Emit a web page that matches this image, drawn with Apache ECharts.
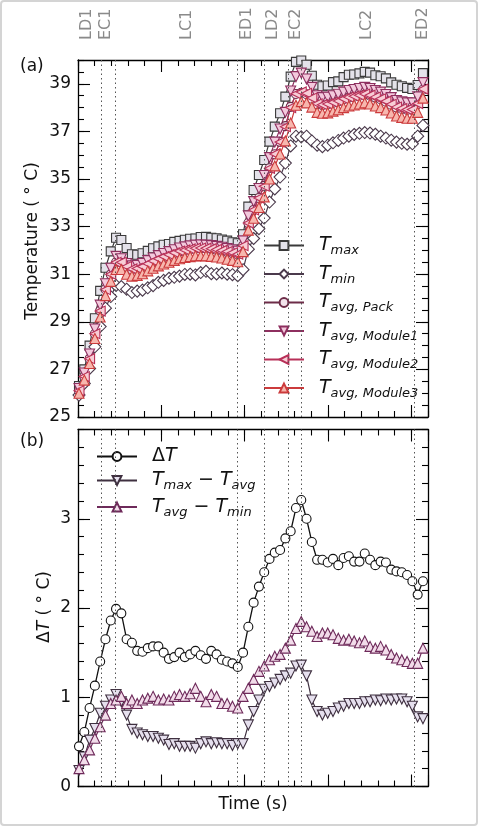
<!DOCTYPE html>
<html><head><meta charset="utf-8">
<script src="https://cdn.jsdelivr.net/npm/echarts@6/dist/echarts.min.js"></script>
<style>html,body{margin:0;padding:0;background:#fff}#c{width:478px;height:826px}</style>
</head><body><div id="c"></div><script>
// ---------------- data ----------------
const sampleStart = 12, sampleStep = 63.5;   // sampling grid (s)
const Tmax = [26.3,27.0,28.0,29.15,30.3,31.27,31.96,32.53,
  32.44,32.1,31.84,31.82,31.88,31.98,32.09,32.17,32.24,32.27,32.36,32.4,32.45,32.49,32.5,32.56,32.57,32.53,32.51,32.46,32.41,32.34,32.3,
  32.68,33.84,34.54,35.17,35.8,36.57,37.2,37.76,38.46,
  39.3,39.92,39.98,39.8,39.34,38.96,38.9,38.93,39.07,39.1,39.28,39.38,39.39,39.44,39.5,39.47,39.36,39.32,39.23,39.06,38.96,38.9,38.83,38.78,38.95,39.45];
const Tmin = [25.92,26.41,27.04,27.95,28.8,29.57,30.06,30.53,
  30.48,30.37,30.23,30.29,30.33,30.43,30.52,30.66,30.74,30.83,30.87,30.92,30.99,31.0,30.97,31.07,31.12,31.02,31.01,31.05,31.0,30.98,30.94,
  31.19,32.05,32.5,32.91,33.36,34.03,34.58,35.08,35.67,
  36.39,36.8,36.77,36.8,36.6,36.42,36.36,36.42,36.52,36.62,36.72,36.8,36.87,36.92,36.95,36.93,36.88,36.8,36.72,36.63,36.55,36.5,36.46,36.48,36.8,37.25];
const TavgPack = [26.1,26.7,27.45,28.5,29.47,30.37,30.99,31.5,
  31.49,31.3,31.2,31.22,31.3,31.42,31.53,31.63,31.72,31.8,31.88,31.95,32.0,32.04,32.07,32.08,32.07,32.05,32.02,31.98,31.93,31.88,31.82,
  32.2,33.15,33.7,34.2,34.71,35.45,36.04,36.56,37.22,
  38.03,38.57,38.62,38.56,38.37,38.14,38.1,38.13,38.2,38.26,38.35,38.42,38.46,38.5,38.55,38.5,38.42,38.35,38.25,38.12,38.0,37.94,37.9,37.9,38.15,38.75];
const TavgM1 = [26.2,26.85,27.65,28.7,29.7,30.6,31.25,31.75,
  31.65,31.45,31.35,31.37,31.45,31.57,31.68,31.78,31.87,31.95,32.03,32.1,32.15,32.19,32.22,32.23,32.22,32.2,32.17,32.13,32.08,32.03,31.97,
  32.4,33.45,34.05,34.6,35.15,35.9,36.55,37.1,37.8,
  38.7,39.3,39.45,39.2,38.85,38.5,38.42,38.44,38.5,38.56,38.65,38.72,38.76,38.8,38.85,38.8,38.72,38.65,38.55,38.42,38.3,38.24,38.2,38.2,38.45,39.05];
const TavgM2 = [26.1,26.7,27.45,28.5,29.45,30.35,31.0,31.5,
  31.5,31.32,31.22,31.24,31.32,31.44,31.55,31.65,31.74,31.82,31.9,31.97,32.02,32.06,32.09,32.1,32.09,32.07,32.04,32.0,31.95,31.9,31.84,
  32.2,33.15,33.7,34.2,34.7,35.45,36.05,36.55,37.2,
  38.0,38.58,38.66,38.6,38.4,38.16,38.12,38.15,38.22,38.28,38.37,38.44,38.48,38.52,38.57,38.52,38.44,38.37,38.27,38.14,38.02,37.96,37.92,37.92,38.17,38.78];
const TavgM3 = [26.0,26.55,27.25,28.3,29.2,30.1,30.7,31.2,
  31.2,31.0,30.92,30.95,31.02,31.14,31.25,31.35,31.43,31.5,31.58,31.65,31.7,31.74,31.77,31.78,31.77,31.75,31.72,31.68,31.63,31.58,31.52,
  31.95,32.85,33.35,33.8,34.25,35.0,35.55,36.05,36.6,
  37.35,38.1,38.25,38.2,38.02,37.8,37.76,37.78,37.85,37.91,38.0,38.07,38.11,38.15,38.2,38.15,38.07,38.0,37.9,37.77,37.65,37.59,37.55,37.55,37.8,38.4];
const dT = [0.45,0.61,0.88,1.13,1.40,1.65,1.86,1.99,1.94,1.65,
  1.61,1.52,1.51,1.55,1.57,1.57,1.50,1.43,1.45,1.50,
  1.45,1.48,1.52,1.47,1.43,1.52,1.48,1.42,1.40,1.38,
  1.34,1.50,1.79,2.06,2.24,2.40,2.55,2.62,2.65,2.78,
  2.86,3.12,3.21,3.00,2.74,2.54,2.54,2.51,2.55,2.48,
  2.56,2.58,2.52,2.52,2.61,2.54,2.48,2.52,2.51,2.43,
  2.41,2.40,2.37,2.30,2.15,2.30];
const dMaxAvg = [0.18,0.33,0.52,0.65,0.82,0.90,0.97,1.03,0.95,0.80,
  0.64,0.60,0.58,0.56,0.56,0.54,0.52,0.47,0.48,0.45,
  0.45,0.45,0.43,0.48,0.50,0.48,0.49,0.48,0.48,0.46,
  0.48,0.48,0.69,0.84,0.97,1.09,1.12,1.16,1.20,1.24,
  1.27,1.35,1.36,1.24,0.97,0.84,0.80,0.82,0.84,0.88,
  0.90,0.93,0.93,0.93,0.95,0.95,0.97,0.96,0.98,0.97,
  0.98,0.98,0.95,0.90,0.78,0.76];
const dAvgMin = [0.20,0.30,0.41,0.54,0.67,0.80,0.93,0.97,1.01,0.93,
  0.97,0.93,0.97,0.99,1.01,0.97,0.98,0.97,1.01,1.03,
  1.01,1.04,1.10,1.01,0.95,1.03,1.01,0.93,0.93,0.90,
  0.88,1.01,1.10,1.20,1.29,1.35,1.42,1.46,1.48,1.55,
  1.64,1.77,1.85,1.79,1.74,1.68,1.72,1.72,1.70,1.66,
  1.64,1.65,1.63,1.61,1.63,1.57,1.55,1.57,1.53,1.48,
  1.44,1.42,1.40,1.38,1.38,1.55];
const eventTimes = [276, 452, 1915, 2236, 2520, 2684, 4038];
const phaseNames = ['LD1','EC1','LC1','ED1','LD2','EC2','LC2','ED2'];
const phaseTimes = [108, 340, 1304, 2024, 2344, 2610, 3464, 4140];
const yTicksA = {min:25, max:40, major:2, minor:0.5};
const yTicksB = {min:0, max:4, major:1, minor:0.2};
const xTicks = {min:0, max:4200, major:1000, minor:200};

// ---------------- chart ----------------
const times = Tmax.map((_, i) => sampleStart + i * sampleStep);
const FONT = 'DejaVu Sans';
const chart = echarts.init(document.getElementById('c'), null, {renderer:'canvas'});

const grids = [
  {left:78, top:60, width:350, height:357},
  {left:78, top:429.5, width:350, height:357}
];
function xAx(g, pos, interval, len, line){
  return {type:'value', gridIndex:g, position:pos, min:xTicks.min, max:xTicks.max, interval:interval,
    axisLine:{show:line, onZero:false, lineStyle:{color:'#000', width:1.3}},
    axisTick:{show:true, inside:true, length:len, lineStyle:{color:'#000', width:1.1}},
    axisLabel:{show:false}, splitLine:{show:false}, minorTick:{show:false}};
}
function yAx(g, pos, t, interval, len, line, labels){
  return {type:'value', gridIndex:g, position:pos, min:t.min, max:t.max, interval:interval,
    axisLine:{show:line, onZero:false, lineStyle:{color:'#000', width:1.3}},
    axisTick:{show:true, inside:true, length:len, lineStyle:{color:'#000', width:1.1}},
    axisLabel:{show:labels, showMaxLabel:false, margin:7, fontFamily:FONT, fontSize:17, color:'#111'},
    splitLine:{show:false}, minorTick:{show:false}};
}
const xAxes = [], yAxes = [];
[0,1].forEach(g => {
  xAxes.push(xAx(g,'bottom',xTicks.major,12,true), xAx(g,'bottom',xTicks.minor,6,false),
             xAx(g,'top',xTicks.major,12,true), xAx(g,'top',xTicks.minor,6,false));
  const t = g === 0 ? yTicksA : yTicksB;
  yAxes.push(yAx(g,'left',t,t.major,12,true,true), yAx(g,'left',t,t.minor,6,false,false),
             yAx(g,'right',t,t.major,12,true,false), yAx(g,'right',t,t.minor,6,false,false));
});

function ser(name, vals, panel, sym, size, rot, edge, fill, lw, z){
  return {name, type:'line', xAxisIndex:panel*4, yAxisIndex:panel*4,
    data: times.map((t,i) => [t, vals[i]]),
    symbol:sym, symbolSize:size, symbolRotate:rot, showAllSymbol:true, z:z,
    lineStyle:{color:edge, width:lw}, itemStyle:{color:fill, borderColor:edge, borderWidth:1.1},
    emphasis:{disabled:true}, animation:false};
}
const dotted = {type:[1.5,3], color:'#555', width:1};
function marks(){
  return {silent:true, symbol:['none','none'], label:{show:false}, lineStyle:dotted,
    data: eventTimes.map(t => ({xAxis:t})), animation:false};
}
const series = [
  ser('T_max', Tmax, 0, 'rect', 9, 0, '#3a3a3a', '#e4e2ea', 1.2, 2),
  ser('T_min', Tmin, 0, 'diamond', 12, 0, '#4b3a4c', '#ffffff', 1.2, 2),
  ser('T_avg, Pack', TavgPack, 0, 'circle', 9, 0, '#6d2c48', '#f3e4ec', 1.2, 2),
  ser('T_avg, Module1', TavgM1, 0, 'triangle', 10, 180, '#8e2f5f', '#f3c9dc', 1.2, 2),
  ser('T_avg, Module2', TavgM2, 0, 'triangle', 10, 90, '#b83058', '#f8cdd6', 1.2, 2),
  ser('T_avg, Module3', TavgM3, 0, 'triangle', 10, 0, '#cc3b3c', '#f7b7ae', 1.2, 2),
  ser('dT', dT, 1, 'circle', 9, 0, '#111111', '#ffffff', 1.3, 2),
  ser('T_max − T_avg', dMaxAvg, 1, 'triangle', 10, 180, '#3f3040', '#e6e0ee', 1.2, 2),
  ser('T_avg − T_min', dAvgMin, 1, 'triangle', 10, 0, '#6e2a5a', '#f2dcea', 1.2, 2)
];
series[0].markLine = marks();
series[6].markLine = marks();

const rich = {
  t:{fontFamily:FONT, fontStyle:'italic', fontSize:19, lineHeight:24, color:'#111'},
  s:{fontFamily:FONT, fontStyle:'italic', fontSize:13, lineHeight:15, verticalAlign:'bottom', color:'#111'},
  r:{fontFamily:FONT, fontSize:19, lineHeight:24, color:'#111'},
  o:{fontFamily:FONT, fontSize:19, lineHeight:24, color:'#111'}
};
function legendFmt(name){
  if (name === 'dT') return '{r|Δ}{t|T}';
  return name.split(' − ').map(p => {
    const k = p.indexOf('_');
    return '{t|T}{s|' + p.slice(k+1) + '}';
  }).join('{o| − }');
}
const legendCommon = {orient:'vertical', itemWidth:40, itemHeight:11, selectedMode:false,
  formatter:legendFmt, textStyle:{rich:rich, padding:[0,0,0,10]}};

chart.setOption({
  animation:false,
  grid:grids, xAxis:xAxes, yAxis:yAxes, series:series,
  legend:[
    Object.assign({left:258, top:231, itemGap:7, data:series.slice(0,6).map(s=>s.name)}, legendCommon),
    Object.assign({left:91, top:442, itemGap:5, data:series.slice(6).map(s=>s.name)}, legendCommon)
  ]
});

const gfx = [
  {type:'rect', shape:{x:1, y:1, width:476, height:824, r:3}, style:{fill:'none', stroke:'#d4d4d4', lineWidth:2}, silent:true},
  {type:'text', x:20, y:67, style:{text:'(a)', font:'17px "DejaVu Sans"', fill:'#111', verticalAlign:'middle'}},
  {type:'text', x:20, y:442, style:{text:'(b)', font:'17px "DejaVu Sans"', fill:'#111', verticalAlign:'middle'}},
  {type:'text', x:33, y:241, rotation:Math.PI/2, style:{text:'Temperature ( ° C)', font:'17px "DejaVu Sans"', fill:'#111', align:'center', verticalAlign:'middle'}},
  {type:'text', x:45, y:607, rotation:Math.PI/2,
    style:{text:'{r|Δ}{i|T}{r| ( ° C)}', align:'center', verticalAlign:'middle',
      rich:{r:{fontFamily:FONT, fontSize:17, fill:'#111'}, i:{fontFamily:FONT, fontStyle:'italic', fontSize:17, fill:'#111'}}}},
  {type:'text', x:253, y:805, style:{text:'Time (s)', font:'17px "DejaVu Sans"', fill:'#111', align:'center', verticalAlign:'middle'}}
];
phaseNames.forEach((n, i) => {
  const px = chart.convertToPixel({xAxisIndex:0}, phaseTimes[i]);
  gfx.push({type:'text', x:px, y:40, rotation:Math.PI/2,
    style:{text:n, font:'16px "DejaVu Sans"', fill:'#8a8a8a', align:'left', verticalAlign:'middle'}});
});
chart.setOption({graphic:gfx});
</script></body></html>
